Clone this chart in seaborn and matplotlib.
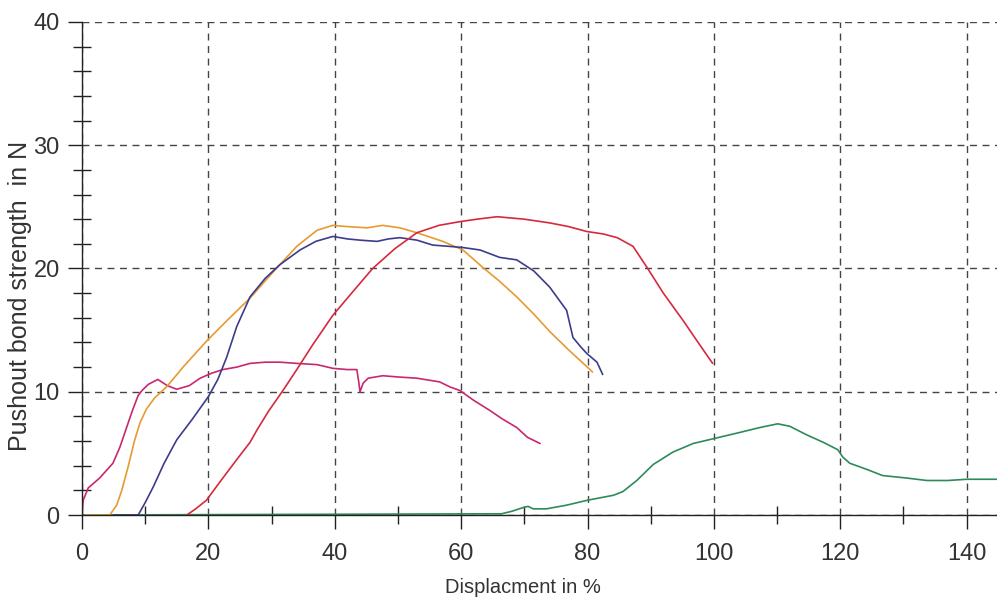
import numpy as np
import pandas as pd
import matplotlib
matplotlib.use("Agg")
import matplotlib.pyplot as plt
from matplotlib.ticker import MultipleLocator
import seaborn as sns

# curves (displacement %, force N)
magenta_x = [0, 0.2, 1.0, 2.8, 4.9, 6.0, 7.0, 8.0, 8.9, 9.5, 10.5, 12.0, 13.5, 15.0, 17.0,
             18.7, 20.5, 22.3, 24.5, 26.6, 29.0, 31.3, 34.0, 37.2, 39.7, 42.0, 43.5, 43.8,
             44.0, 44.5, 45.3, 47.6, 50.0, 53.0, 56.6, 58.2, 59.8, 62.0, 64.5, 66.5, 68.8,
             70.5, 72.5]
magenta_y = [0, 1.2, 2.2, 3.0, 4.2, 5.5, 7.0, 8.5, 9.7, 10.1, 10.6, 11.0, 10.5, 10.2, 10.5,
             11.1, 11.5, 11.8, 12.0, 12.3, 12.4, 12.4, 12.3, 12.2, 11.9, 11.8, 11.8, 10.8,
             10.0, 10.7, 11.1, 11.3, 11.2, 11.1, 10.8, 10.4, 10.1, 9.3, 8.5, 7.8, 7.1,
             6.3, 5.8]

orange_x = [0.5, 2.0, 4.4, 5.5, 6.3, 7.3, 8.3, 9.2, 10.2, 11.5, 13.4, 16.0, 19.7, 23.0,
            26.6, 29.0, 31.3, 34.0, 37.2, 39.7, 42.0, 45.1, 47.6, 50.3, 53.0, 57.1, 60.3,
            63.4, 66.0, 68.8, 71.5, 74.0, 77.0, 80.4, 80.8]
orange_y = [0, 0, 0, 0.8, 2.0, 3.9, 6.0, 7.5, 8.6, 9.5, 10.4, 12.0, 14.1, 15.8,
            17.6, 19.0, 20.3, 21.8, 23.1, 23.5, 23.4, 23.3, 23.5, 23.3, 22.9, 22.2, 21.5,
            20.1, 19.0, 17.7, 16.3, 14.9, 13.4, 11.8, 11.6]

blue_x = [5.0, 8.9, 10.0, 11.3, 13.0, 15.0, 17.5, 20.0, 21.5, 22.9, 24.5, 26.6, 29.0,
          31.3, 34.5, 37.0, 39.7, 42.0, 44.0, 46.7, 48.5, 50.3, 53.0, 55.5, 58.0, 60.3,
          63.0, 66.1, 68.8, 71.5, 74.0, 76.7, 77.7, 79.0, 79.9, 81.5, 82.4]
blue_y = [0, 0, 1.0, 2.3, 4.2, 6.1, 7.8, 9.6, 11.0, 12.8, 15.3, 17.7, 19.2,
          20.3, 21.5, 22.2, 22.6, 22.4, 22.3, 22.2, 22.4, 22.5, 22.3, 21.9, 21.8, 21.7,
          21.5, 20.9, 20.7, 19.8, 18.5, 16.6, 14.4, 13.6, 13.1, 12.4, 11.4]

red_x = [16.6, 18.0, 19.7, 22.0, 24.5, 26.6, 27.7, 29.5, 31.8, 34.0, 36.5, 39.7, 43.0,
         46.0, 49.5, 53.0, 56.5, 59.8, 62.5, 65.7, 70.0, 74.0, 77.0, 79.9, 82.5, 84.7,
         87.2, 89.4, 92.0, 95.1, 97.5, 99.8]
red_y = [0, 0.5, 1.2, 2.8, 4.5, 5.9, 6.9, 8.4, 10.1, 11.8, 13.8, 16.2, 18.2,
         20.0, 21.6, 22.9, 23.5, 23.8, 24.0, 24.2, 24.0, 23.7, 23.4, 23.0, 22.8, 22.5,
         21.8, 20.1, 18.0, 15.8, 14.0, 12.3]

green_x = [0, 66.4, 68.0, 69.8, 70.6, 71.4, 73.5, 76.7, 80.0, 84.1, 85.6, 87.8, 90.4,
           93.5, 96.7, 100.0, 104.1, 107.3, 110.1, 112.0, 114.7, 117.3, 119.6, 120.4,
           121.5, 124.2, 126.7, 130.5, 133.7, 137.0, 140.0, 144.8]
green_y = [0, 0.1, 0.3, 0.6, 0.7, 0.5, 0.5, 0.8, 1.2, 1.6, 1.9, 2.8, 4.1,
           5.1, 5.8, 6.2, 6.7, 7.1, 7.4, 7.2, 6.5, 5.9, 5.3, 4.7,
           4.2, 3.7, 3.2, 3.0, 2.8, 2.8, 2.9, 2.9]

curves = {
    "green": (green_x, green_y),
    "magenta": (magenta_x, magenta_y),
    "orange": (orange_x, orange_y),
    "blue": (blue_x, blue_y),
    "red": (red_x, red_y),
}
palette = {"magenta": "#c8286e", "orange": "#e89a30", "blue": "#3c3c8c",
           "red": "#d42a3c", "green": "#2e8a5a"}

frames = []
for name, (xs, ys) in curves.items():
    frames.append(pd.DataFrame({"disp": xs, "force": ys, "curve": name}))
df = pd.concat(frames, ignore_index=True)

sns.set_style("white")
plt.rcParams["font.family"] = ["Liberation Sans Narrow", "Liberation Sans", "DejaVu Sans"]

fig = plt.figure(figsize=(9.97, 6.02), dpi=100)
ax = fig.add_axes([0.0822, 0.1445, 0.9178, 0.819])

sns.lineplot(data=df, x="disp", y="force", hue="curve", palette=palette,
             estimator=None, sort=False, linewidth=1.2, legend=False, ax=ax)

ax.set_xlim(0, 144.8)
ax.set_ylim(0, 40)
ax.xaxis.set_major_locator(MultipleLocator(20))
ax.xaxis.set_minor_locator(MultipleLocator(10))
ax.yaxis.set_major_locator(MultipleLocator(10))
ax.yaxis.set_minor_locator(MultipleLocator(2))

ax.grid(True, which="major", linestyle=(0, (5, 4)), color="#444444", linewidth=1.0)
ax.set_axisbelow(True)
for s in ["top", "right"]:
    ax.spines[s].set_visible(False)
for s in ["left", "bottom"]:
    ax.spines[s].set_color("#222222")
    ax.spines[s].set_linewidth(1.0)

# seaborn's white style switches the ticks off, so turn them back on
ax.tick_params(which="both", bottom=True, left=True, top=False, right=False)
ax.tick_params(which="major", direction="out", length=10, width=1, color="#222222",
               labelsize=17, labelcolor="#333333")
ax.tick_params(axis="x", which="major", pad=10)
ax.tick_params(axis="y", which="major", pad=6)
ax.tick_params(which="minor", direction="inout", length=13, width=1, color="#222222")

ax.set_xlabel("Displacment in %", fontsize=14.5, color="#333333")
ax.set_ylabel("Pushout bond strength  in N", fontsize=18, color="#333333")
ax.xaxis.set_label_coords(0.482, -0.128)
ax.yaxis.set_label_coords(-0.055, 0.444)

fig.savefig("out.png", dpi=100)
